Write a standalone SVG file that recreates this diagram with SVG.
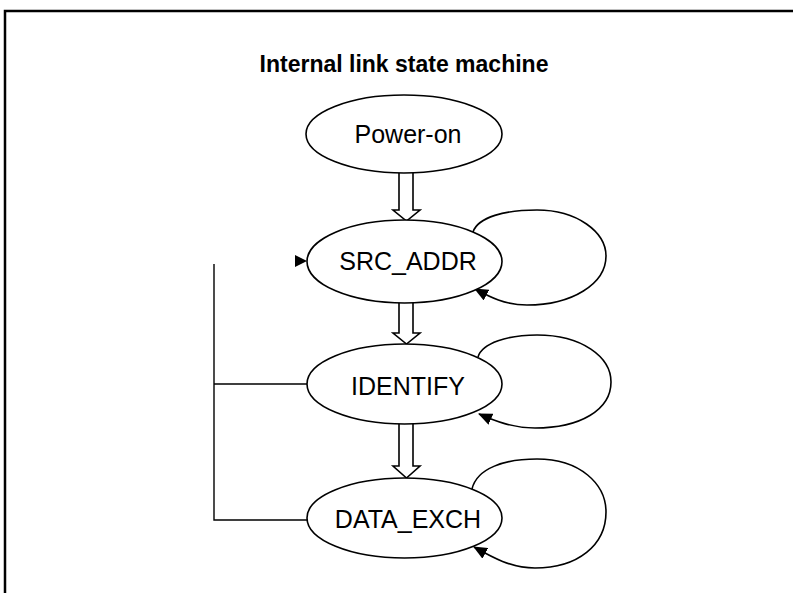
<svg xmlns="http://www.w3.org/2000/svg" width="793" height="593" viewBox="0 0 793 593">
<style>
.st{fill:#fff;stroke:#000;stroke-width:1.6}
.lbl{font-family:"Liberation Sans",Arial,sans-serif;font-size:25px;fill:#000;text-anchor:middle}
.title{font-family:"Liberation Sans",Arial,sans-serif;font-size:23px;font-weight:bold;fill:#000;text-anchor:middle}
.dbl{fill:#fff;stroke:#000;stroke-width:1.6}
.ln{fill:none;stroke:#000;stroke-width:1.4}
.loop{fill:none;stroke:#000;stroke-width:1.6;marker-end:url(#ah)}
.frame{fill:none;stroke:#000;stroke-width:2.5}
</style>
<defs>
<marker id="ah" markerWidth="14" markerHeight="12" refX="13" refY="6" orient="auto" markerUnits="userSpaceOnUse">
<path d="M0,0 L14,6 L0,12 z" fill="#000"/>
</marker>
</defs>
<rect width="793" height="593" fill="#fff"/>
<path class="frame" d="M5,593 L5,11 L793,11"/>
<text class="title" x="404" y="72">Internal link state machine</text>

<g id="connectors">
<path class="dbl" d="M399,173 L399,210 L393,210 L406.5,221 L420,210 L413,210 L413,173"/>
<path class="dbl" d="M399,302 L399,333 L393,333 L406.5,344 L420,333 L413,333 L413,302"/>
<path class="dbl" d="M399,423 L399,466 L393,466 L406.5,478 L420,466 L413,466 L413,423"/>
<path class="loop" d="M473,232 C478,217 505,210 537,210 C577,210 606,232 606,256 C606,284 572,305 527,305 C505,305 490,297 475,289"/>
<path class="loop" d="M478,357 C482,343 508,335 537,335 C582,335 611,357 611,382 C611,410 580,428 535,428 C513,428 495,421 479,414"/>
<path class="loop" d="M472,489 C477,468 505,459 537,459 C580,459 606,484 606,512 C606,545 578,568 535,568 C510,568 490,556 474,547"/>
<path class="ln" d="M214,264 L214,520 L307,520 M214,384 L307,384"/>
<path d="M295,255 L307,261 L295,267 z" fill="#000"/>
</g>

<g id="power-on">
<ellipse class="st" cx="404" cy="134" rx="98" ry="39"/>
<text class="lbl" x="408" y="143">Power-on</text>
</g>
<g id="src-addr">
<ellipse class="st" cx="404.5" cy="261.5" rx="97.5" ry="41.5"/>
<text class="lbl" x="408" y="270">SRC_ADDR</text>
</g>
<g id="identify">
<ellipse class="st" cx="404.5" cy="384" rx="97.5" ry="40"/>
<text class="lbl" x="408" y="395">IDENTIFY</text>
</g>
<g id="data-exch">
<ellipse class="st" cx="404.5" cy="518" rx="97.5" ry="40"/>
<text class="lbl" x="408" y="528">DATA_EXCH</text>
</g>
</svg>
